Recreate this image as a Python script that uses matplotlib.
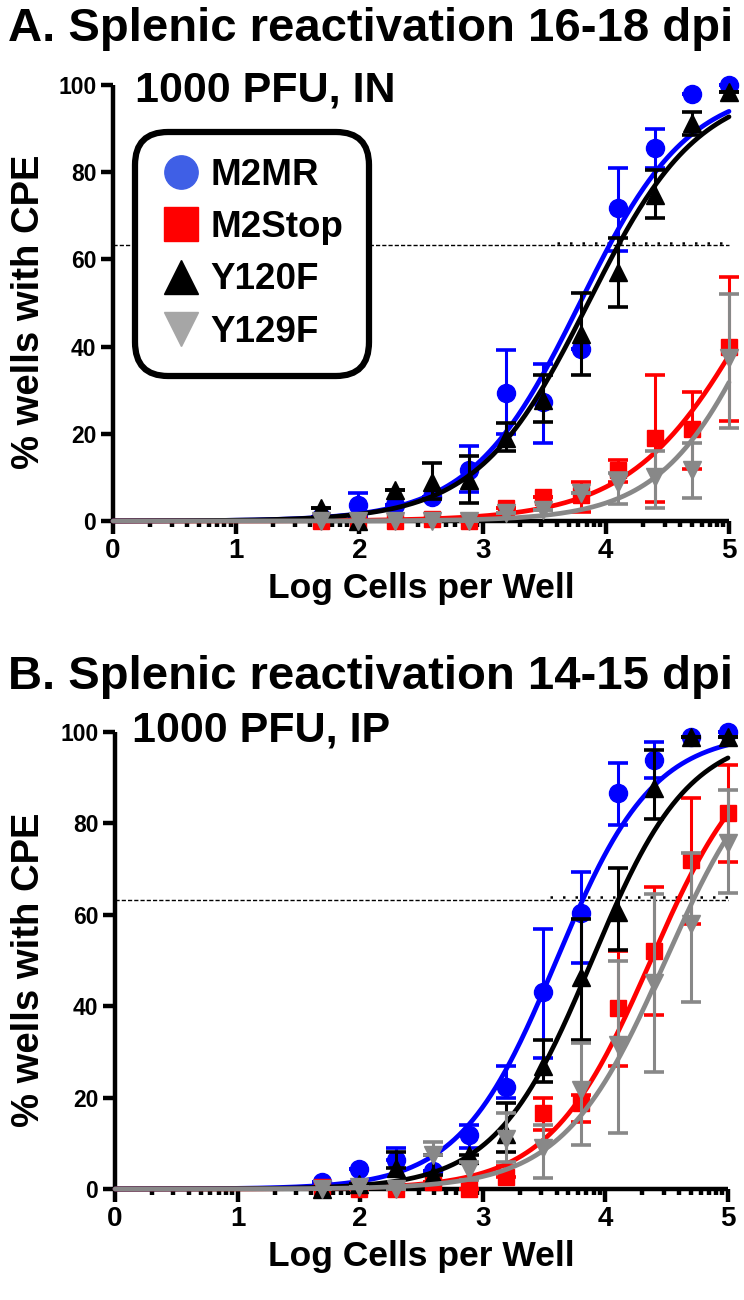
import numpy as np
import matplotlib
matplotlib.use("Agg")
import matplotlib.pyplot as plt
from matplotlib.lines import Line2D

FONT = ['Liberation Sans', 'DejaVu Sans']
plt.rcParams['font.family'] = FONT
plt.rcParams['font.weight'] = 'bold'

# ---------------- data ----------------
log_cells = [1.69, 1.99, 2.29, 2.59, 2.89, 3.19, 3.49, 3.80, 4.10, 4.40, 4.70, 5.00]
series_names = ["M2MR", "M2Stop", "Y120F", "Y129F"]

# Panel A (IN, 16-18 dpi): mean, upper bound, lower bound
a_m2mr = [1, 3.7, 3.7, 5.5, 11.7, 29.3, 27.3, 39.5, 71.8, 85.5, 98, 100]
a_m2mr_hi = [1, 6.4, 3.7, 5.5, 17.2, 39.2, 36, 39.5, 81, 90, 98, 100]
a_m2mr_lo = [1, 1.0, 3.7, 5.5, 6.7, 20, 18, 39.5, 62, 81, 98, 100]
a_m2stop = [0, 0, 0, 0.5, 0, 3, 5.5, 6, 11.7, 19, 21, 40]
a_m2stop_hi = [0, 0, 0, 0.5, 0, 3, 5.5, 9, 14, 33.5, 29.6, 56]
a_m2stop_lo = [0, 0, 0, 0.5, 0, 3, 5.5, 2, 9, 4.3, 12, 23]
a_y120f = [3, 0, 7.1, 9, 9.4, 19, 27.7, 43, 57, 74.8, 91.3, 98.4]
a_y120f_hi = [3, 0, 7.1, 13.3, 15, 22.5, 33.5, 52.3, 65, 80.5, 93.8, 98.4]
a_y120f_lo = [3, 0, 7.1, 5, 4.1, 16, 22.7, 33.5, 49, 69.5, 88.5, 98.4]
a_y129f = [0, 0, 0, 0, 0, 1.8, 2.5, 6.4, 8.7, 10, 11.7, 37.4]
a_y129f_hi = [0, 0, 0, 0, 0, 1.8, 2.5, 6.4, 11, 16, 18, 52]
a_y129f_lo = [0, 0, 0, 0, 0, 1.8, 2.5, 6.4, 4, 3, 5.3, 21.3]

# Panel B (IP, 14-15 dpi)
b_m2mr = [1.5, 4.4, 6.3, 4, 11.8, 22.3, 43, 60.4, 86.6, 93.9, 99, 100]
b_m2mr_hi = [1.5, 4.4, 9, 4, 14, 27, 57, 69.4, 93.2, 97.8, 99, 100]
b_m2mr_lo = [1.5, 4.4, 6.3, 4, 9, 20, 28.7, 49.5, 79.7, 90, 99, 100]
b_m2stop = [0.5, 0, 0, 1.5, 0, 2.6, 16.6, 18.8, 39.6, 52, 72, 82.3]
b_m2stop_hi = [0.5, 0, 0, 1.5, 0, 5, 20, 20.6, 52, 66, 85.6, 92.8]
b_m2stop_lo = [0.5, 0, 0, 1.5, 0, 2.6, 13, 14.6, 27, 38, 58, 71.6]
b_y120f = [0, 1, 4.6, 3, 7.4, 12, 27, 46.4, 60.6, 87.7, 99, 99]
b_y120f_hi = [0, 1, 8, 7.4, 7.4, 18.8, 32.6, 59, 70.2, 96, 99, 99]
b_y120f_lo = [0, 1, 4.6, 3, 5.7, 8, 23.4, 32.6, 52.3, 81, 99, 99]
b_y129f = [0, 0.5, 0, 7.4, 4.2, 11, 9, 21.7, 31.5, 45, 58, 75.7]
b_y129f_hi = [0, 0.5, 0, 10.3, 6, 16.6, 14, 32, 50, 64.5, 73.5, 87.3]
b_y129f_lo = [0, 0.5, 0, 7.4, 2, 6, 2.4, 9.6, 12.3, 25.6, 41, 64.8]

# sigmoidal fit parameters: (logEC50, Hill slope)
a_fit = {"M2MR": (3.79, 0.985), "M2Stop": (5.248, 0.86), "Y120F": (3.857, 0.966), "Y129F": (5.32, 1.035)}
b_fit = {"M2MR": (3.60, 1.10), "M2Stop": (4.37, 1.05), "Y120F": (3.89, 1.10), "Y129F": (4.49, 1.04)}

threshold = 63.2
x_ticks = [0, 1, 2, 3, 4, 5]
y_ticks = [0, 20, 40, 60, 80, 100]

# ---------------- style ----------------
colors = {"M2MR": "#0000FF", "M2Stop": "#FF0000", "Y120F": "#000000", "Y129F": "#888888"}
leg_colors = {"M2MR": "#3F5FE6", "M2Stop": "#FF0000", "Y120F": "#000000", "Y129F": "#A6A6A6"}
markers = {"M2MR": "o", "M2Stop": "s", "Y120F": "^", "Y129F": "v"}
msize = {"M2MR": 13, "M2Stop": 12, "Y120F": 13, "Y129F": 13}
draw_order = ["M2MR", "M2Stop", "Y120F", "Y129F"]


def sigmoid(x, e, h):
    return 100.0 / (1.0 + 10 ** ((e - x) * h))


def make_panel(ax, data, fits, dotted_start):
    xs = np.array(log_cells)
    xx = np.linspace(0, 5, 400)
    ax.plot([0, 5], [threshold, threshold], color='black', lw=1.0,
            dashes=(3, 1.5), zorder=1, clip_on=False)
    ax.plot([dotted_start, 5], [threshold + 0.6, threshold + 0.6], color='black',
            lw=1.8, ls=(0, (1, 4)), zorder=1, clip_on=False)
    for k, name in enumerate(draw_order):
        m, hi, lo = (np.array(v, dtype=float) for v in data[name])
        c = colors[name]
        e, h = fits[name]
        ax.plot(xx, sigmoid(xx, e, h), color=c, lw=3.4, zorder=3 + k, clip_on=False,
                solid_capstyle='round')
        ax.errorbar(xs, m, yerr=[m - lo, hi - m], fmt='none', ecolor=c,
                    elinewidth=2.2, capsize=7, capthick=2.6, zorder=3 + k, clip_on=False)
        ax.plot(xs, m, ls='none', marker=markers[name], ms=msize[name], color=c,
                mec=c, zorder=3.5 + k, clip_on=False)
    ax.set_xlim(0, 5)
    ax.set_ylim(0, 100)
    for s in ['top', 'right']:
        ax.spines[s].set_visible(False)
    for s in ['left', 'bottom']:
        ax.spines[s].set_linewidth(3.2)
        ax.spines[s].set_capstyle('butt')
    ax.set_xticks(x_ticks)
    ax.set_yticks(y_ticks)
    minors = [d + np.log10(j) for d in range(5) for j in range(2, 10)]
    ax.set_xticks(minors, minor=True)
    ax.tick_params(axis='x', which='major', length=9, width=3.2, direction='out',
                   labelsize=20, pad=3)
    ax.tick_params(axis='x', which='minor', length=4, width=3.2, direction='out')
    ax.tick_params(axis='y', which='major', length=9, width=3.2, direction='out',
                   labelsize=16.5, pad=3)
    for lab in ax.get_xticklabels() + ax.get_yticklabels():
        lab.set_fontweight('bold')
    ax.set_xlabel("Log Cells per Well", fontsize=25.5, fontweight='bold', labelpad=6)
    ax.set_ylabel("% wells with CPE", fontsize=27.5, fontweight='bold')


fig = plt.figure(figsize=(7.44, 13.0), dpi=100)
W, H = 744.0, 1300.0

axA = fig.add_axes([113 / W, 1 - 521 / H, (729 - 113) / W, (521 - 85) / H])
dataA = {"M2MR": (a_m2mr, a_m2mr_hi, a_m2mr_lo), "M2Stop": (a_m2stop, a_m2stop_hi, a_m2stop_lo),
         "Y120F": (a_y120f, a_y120f_hi, a_y120f_lo), "Y129F": (a_y129f, a_y129f_hi, a_y129f_lo)}
make_panel(axA, dataA, a_fit, 3.6)

axB = fig.add_axes([115 / W, 1 - 1189 / H, (728 - 115) / W, (1189 - 732) / H])
dataB = {"M2MR": (b_m2mr, b_m2mr_hi, b_m2mr_lo), "M2Stop": (b_m2stop, b_m2stop_hi, b_m2stop_lo),
         "Y120F": (b_y120f, b_y120f_hi, b_y120f_lo), "Y129F": (b_y129f, b_y129f_hi, b_y129f_lo)}
make_panel(axB, dataB, b_fit, 3.55)

axA.yaxis.set_label_coords((47 - 113) / 616, 0.48)
axB.yaxis.set_label_coords((47 - 115) / 613, 0.48)

# titles
fig.text(8 / W, 1 - 41 / H, "A. Splenic reactivation 16-18 dpi", fontsize=34,
         fontweight='bold', ha='left', va='baseline')
fig.text(8 / W, 1 - 689 / H, "B. Splenic reactivation 14-15 dpi", fontsize=34,
         fontweight='bold', ha='left', va='baseline')
fig.text(135 / W, 1 - 101 / H, "1000 PFU, IN", fontsize=31, fontweight='bold',
         ha='left', va='baseline')
fig.text(132 / W, 1 - 742 / H, "1000 PFU, IP", fontsize=31, fontweight='bold',
         ha='left', va='baseline')

# legend (panel A)
handles = [Line2D([], [], ls='none', marker=markers[n], ms=24, color=leg_colors[n],
                  mec=leg_colors[n]) for n in series_names]
leg = axA.legend(handles, series_names, loc='upper left',
                 bbox_to_anchor=(0.036, 0.892), borderaxespad=0, frameon=True,
                 fancybox=True, prop={'family': FONT, 'weight': 'bold', 'size': 26.5},
                 handlelength=1.1, handletextpad=0.25, labelspacing=0.47,
                 borderpad=0.7, markerscale=1.0)
fr = leg.get_frame()
fr.set_linewidth(4.5)
fr.set_edgecolor('black')
fr.set_facecolor('white')
fr.set_alpha(1)
fr.set_boxstyle('round,pad=0,rounding_size=0.9')
leg.set_zorder(20)

fig.savefig("out.png", dpi=100)
